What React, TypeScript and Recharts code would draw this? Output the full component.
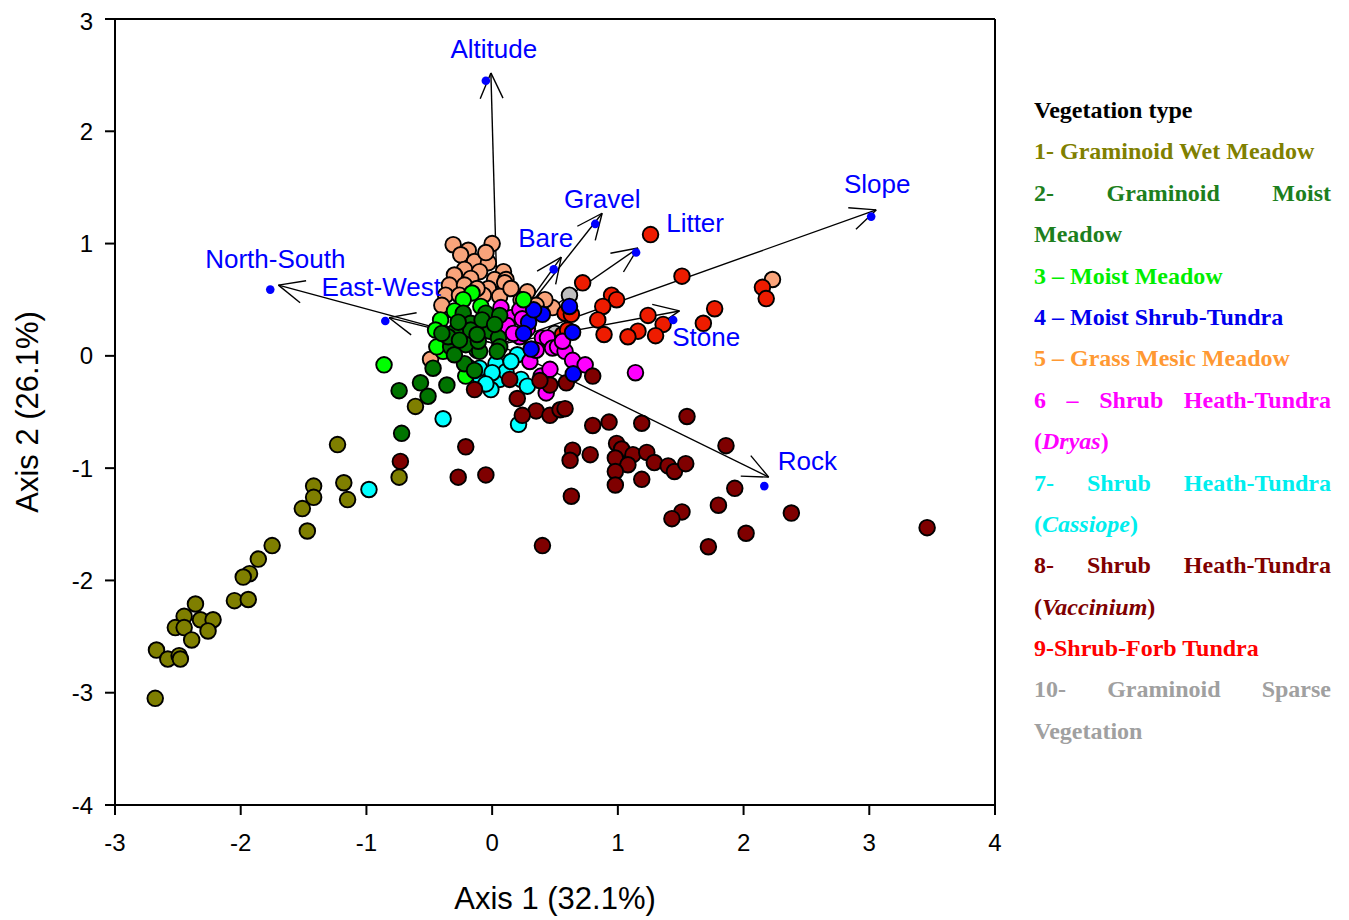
import React from 'react';
import { ScatterChart, Scatter, XAxis, YAxis, ReferenceLine } from 'recharts';

// site scores per vegetation type, [axis1, axis2]
const wetMeadow: [number, number][] = [
  [-1.23, -0.79], [-1.18, -1.13], [-1.15, -1.28], [-1.42, -1.16], [-1.42, -1.26],
  [-1.51, -1.36], [-1.47, -1.56], [-1.75, -1.69], [-1.86, -1.81], [-1.93, -1.94],
  [-1.98, -1.97], [-2.05, -2.18], [-1.94, -2.17], [-2.36, -2.21], [-2.45, -2.32],
  [-2.52, -2.42], [-2.45, -2.42], [-2.32, -2.35], [-2.22, -2.35], [-2.26, -2.45],
  [-2.39, -2.53], [-2.67, -2.62], [-2.58, -2.7], [-2.49, -2.67], [-2.48, -2.7],
  [-2.68, -3.05], [-0.74, -1.08], [-0.61, -0.45]
];
const graminoidMoist: [number, number][] = [
  [-0.23, 0.38], [-0.05, 0.38], [0.06, 0.36], [-0.17, 0.29], [-0.29, 0.22],
  [-0.17, 0.23], [-0.02, 0.22], [0.05, 0.16], [-0.33, 0.08], [-0.21, 0.1],
  [-0.1, 0.04], [0.06, 0.08], [-0.22, -0.07], [-0.14, -0.13], [-0.3, 0.01],
  [-0.47, -0.11], [-0.36, -0.26], [-0.57, -0.24], [-0.51, -0.36], [-0.74, -0.31],
  [-0.72, -0.69], [-0.11, 0.13], [-0.27, 0.3], [-0.08, 0.32], [-0.35, 0.17],
  [0.02, 0.28], [-0.12, 0.19], [-0.4, 0.2], [0.04, 0.04], [-0.26, 0.14]
];
const moistMeadow: [number, number][] = [
  [-0.86, -0.08], [-0.16, 0.56], [0.25, 0.5], [-0.41, 0.32], [-0.38, 0.2],
  [-0.23, 0.5], [-0.21, -0.18], [-0.39, 0.04], [-0.09, 0.44], [-0.45, 0.23],
  [-0.3, 0.4], [-0.12, 0.05], [-0.44, 0.08]
];
const moistShrub: [number, number][] = [
  [0.615, 0.44], [0.4, 0.37], [0.29, 0.3], [0.64, 0.21], [0.31, 0.06],
  [0.645, -0.16], [0.33, 0.41], [0.25, 0.2]
];
const mesicMeadow: [number, number][] = [
  [-0.31, 0.99], [-0.19, 0.94], [0.0, 1.0], [-0.25, 0.9], [-0.14, 0.84],
  [-0.03, 0.83], [-0.22, 0.77], [-0.1, 0.75], [0.09, 0.75], [-0.3, 0.72],
  [-0.17, 0.69], [0.02, 0.68], [0.11, 0.68], [-0.34, 0.63], [-0.22, 0.63],
  [-0.03, 0.6], [0.1, 0.65], [-0.37, 0.54], [0.28, 0.57], [0.23, 0.5],
  [-0.26, 0.54], [-0.07, 0.54], [0.06, 0.53], [0.48, 0.43], [0.42, 0.5],
  [-0.49, -0.03], [2.23, 0.68], [0.15, 0.6], [-0.05, 0.92], [-0.4, 0.45],
  [0.35, 0.45], [-0.12, 0.6]
];
const dryasHeath: [number, number][] = [
  [0.07, 0.43], [0.15, 0.34], [0.22, 0.41], [0.22, 0.17], [0.28, 0.24],
  [0.4, 0.16], [0.44, 0.16], [0.48, 0.07], [0.52, 0.08], [0.58, 0.04],
  [0.64, -0.04], [0.74, -0.08], [0.3, -0.05], [0.39, -0.18], [0.46, -0.12],
  [0.43, -0.33], [1.14, -0.15], [0.35, 0.05], [0.12, 0.27], [0.56, 0.13],
  [0.17, 0.2], [0.24, 0.33]
];
const cassiopeHeath: [number, number][] = [
  [0.06, -0.21], [-0.09, -0.21], [-0.01, -0.3], [0.2, 0.01], [0.23, -0.21],
  [0.28, -0.27], [0.03, -0.07], [0.11, -0.14], [-0.1, -0.11], [-0.19, -0.1],
  [0.21, -0.61], [-0.39, -0.56], [-0.98, -1.19], [0.15, -0.05], [0.0, -0.15],
  [-0.05, -0.25]
];
const vacciniumHeath: [number, number][] = [
  [0.8, -0.18], [0.46, -0.26], [0.59, -0.24], [0.38, -0.22], [0.35, -0.49],
  [0.46, -0.53], [0.54, -0.48], [0.58, -0.47], [0.24, -0.53], [0.8, -0.62],
  [0.93, -0.59], [1.19, -0.6], [1.55, -0.54], [0.64, -0.84], [0.62, -0.93],
  [0.78, -0.88], [0.99, -0.78], [1.03, -0.83], [0.98, -0.91], [1.12, -0.88],
  [1.23, -0.86], [1.08, -0.97], [0.98, -1.03], [0.98, -1.15], [1.19, -1.1],
  [1.29, -0.95], [1.4, -0.98], [1.45, -1.03], [1.54, -0.96], [1.86, -0.8],
  [1.93, -1.18], [1.8, -1.33], [1.51, -1.39], [1.43, -1.45], [2.02, -1.58],
  [1.72, -1.7], [2.38, -1.4], [0.63, -1.25], [0.4, -1.69], [3.46, -1.53],
  [-0.21, -0.81], [-0.27, -1.08], [-0.05, -1.06], [-0.73, -0.94], [-0.14, -0.3],
  [0.14, -0.21], [0.2, -0.38]
];
const shrubForb: [number, number][] = [
  [1.26, 1.08], [1.51, 0.71], [0.72, 0.65], [0.95, 0.54], [0.99, 0.5],
  [0.88, 0.44], [0.84, 0.32], [1.24, 0.36], [1.36, 0.28], [1.16, 0.22],
  [1.08, 0.17], [1.3, 0.18], [0.89, 0.19], [1.68, 0.29], [1.77, 0.42],
  [2.15, 0.61], [2.18, 0.51], [0.58, 0.38], [0.63, 0.37], [0.56, 0.19],
  [0.6, 0.23]
];
const sparseVeg: [number, number][] = [[0.615, 0.54], [0.5, 0.2]];

// environmental vectors (biplot)
const vectorOrigin: [number, number] = [0.05, 0.1];
const vectorNames = ['Altitude', 'Gravel', 'Bare', 'Litter', 'Slope', 'Stone', 'Rock', 'North-South', 'East-West'];
const vectorTips: [number, number][] = [
  [-0.01, 2.52], [0.875, 1.27], [0.55, 0.88], [1.16, 0.96], [3.055, 1.3],
  [1.49, 0.4], [2.2, -1.08], [-1.7, 0.63], [-0.82, 0.34]
];
const vectorScores: [number, number][] = [
  [-0.05, 2.45], [0.82, 1.175], [0.49, 0.77], [1.145, 0.92], [3.015, 1.24],
  [1.44, 0.32], [2.165, -1.16], [-1.765, 0.59], [-0.85, 0.31]
];

const xTicks = [-3, -2, -1, 0, 1, 2, 3, 4];
const yTicks = [-4, -3, -2, -1, 0, 1, 2, 3];

// label placement next to each vector score (px)
const labelOffset: Record<string, [number, number]> = {
  'Altitude': [8, -23], 'Gravel': [7, -16], 'Bare': [-8, -22], 'Litter': [59, -21],
  'Slope': [6, -24], 'Stone': [33, 26], 'Rock': [43, -16], 'North-South': [5, -22],
  'East-West': [-4, -25]
};

const series = [
  { key: 'mesic', data: mesicMeadow, fill: '#f9a47b' },
  { key: 'sparse', data: sparseVeg, fill: '#c0c0c0' },
  { key: 'forb', data: shrubForb, fill: '#ee1c00' },
  { key: 'cassiope', data: cassiopeHeath, fill: '#00ffff' },
  { key: 'dryas', data: dryasHeath, fill: '#ff00ff' },
  { key: 'vaccinium', data: vacciniumHeath, fill: '#7f0000' },
  { key: 'shrub', data: moistShrub, fill: '#0000ff' },
  { key: 'moist', data: moistMeadow, fill: '#00ff00' },
  { key: 'graminoid', data: graminoidMoist, fill: '#007400' },
  { key: 'wet', data: wetMeadow, fill: '#7f7f00' }
];

type Part = { t: string; i?: boolean };
const legendLines: { color: string; parts: Part[]; justify?: boolean }[] = [
  { color: '#000000', parts: [{ t: 'Vegetation type' }] },
  { color: '#808000', parts: [{ t: '1- Graminoid Wet Meadow' }] },
  { color: '#1d7f1d', parts: [{ t: '2-' }, { t: 'Graminoid' }, { t: 'Moist' }], justify: true },
  { color: '#1d7f1d', parts: [{ t: 'Meadow' }] },
  { color: '#00ee00', parts: [{ t: '3 \u2013 Moist Meadow' }] },
  { color: '#0000ee', parts: [{ t: '4 \u2013 Moist Shrub-Tundra' }] },
  { color: '#ff9933', parts: [{ t: '5 \u2013 Grass Mesic Meadow' }] },
  { color: '#ff00ff', parts: [{ t: '6' }, { t: '\u2013' }, { t: 'Shrub' }, { t: 'Heath-Tundra' }], justify: true },
  { color: '#ff00ff', parts: [{ t: '(' }, { t: 'Dryas', i: true }, { t: ')' }] },
  { color: '#00eeee', parts: [{ t: '7-' }, { t: 'Shrub' }, { t: 'Heath-Tundra' }], justify: true },
  { color: '#00eeee', parts: [{ t: '(' }, { t: 'Cassiope', i: true }, { t: ')' }] },
  { color: '#800000', parts: [{ t: '8-' }, { t: 'Shrub' }, { t: 'Heath-Tundra' }], justify: true },
  { color: '#800000', parts: [{ t: '(' }, { t: 'Vaccinium', i: true }, { t: ')' }] },
  { color: '#ff0000', parts: [{ t: '9-Shrub-Forb Tundra' }] },
  { color: '#a0a0a0', parts: [{ t: '10-' }, { t: 'Graminoid' }, { t: 'Sparse' }], justify: true },
  { color: '#a0a0a0', parts: [{ t: 'Vegetation' }] }
];

const sansFont = '"Liberation Sans", Arial, sans-serif';

const siteDot = (fill: string) => (props: any) => {
  if (props.cx == null || props.cy == null) return <g />;
  return <circle cx={props.cx} cy={props.cy} r={7.8} fill={fill} stroke="#000" strokeWidth={1.9} />;
};

const vectorDot = (props: any) => {
  if (props.cx == null || props.cy == null) return <g />;
  const name = props.payload?.name ?? '';
  const off = labelOffset[name] || [0, -20];
  return (
    <g>
      <circle cx={props.cx} cy={props.cy} r={4.3} fill="#0000ff" />
      <text x={props.cx + off[0]} y={props.cy + off[1]} textAnchor="middle" fill="#0000ff"
        fontSize={26} fontFamily={sansFont}>{name}</text>
    </g>
  );
};

const arrowShape = (props: any) => {
  const { x1, y1, x2, y2 } = props;
  if ([x1, y1, x2, y2].some((v) => typeof v !== 'number' || isNaN(v))) return <g />;
  const a = Math.atan2(y2 - y1, x2 - x1);
  const len = 28;
  const spread = 0.42;
  const ax = x2 - len * Math.cos(a - spread);
  const ay = y2 - len * Math.sin(a - spread);
  const bx = x2 - len * Math.cos(a + spread);
  const by = y2 - len * Math.sin(a + spread);
  return (
    <g stroke="#000" strokeWidth={1.4} fill="none">
      <line x1={x1} y1={y1} x2={x2} y2={y2} />
      <line x1={x2} y1={y2} x2={ax} y2={ay} />
      <line x1={x2} y1={y2} x2={bx} y2={by} />
    </g>
  );
};

const xTitle = (props: any) => {
  const vb = props.viewBox || { x: 107, y: 797, width: 880 };
  return (
    <text x={vb.x + vb.width / 2} y={vb.y + 104} textAnchor="middle" fontSize={31}
      fontFamily={sansFont} fill="#000">Axis 1 (32.1%)</text>
  );
};

const yTitle = (props: any) => {
  const vb = props.viewBox || { x: 0, y: 11, height: 786 };
  const cx = 30;
  const cy = vb.y + vb.height / 2;
  return (
    <text x={cx} y={cy} transform={`rotate(-90, ${cx}, ${cy})`} textAnchor="middle" fontSize={31}
      fontFamily={sansFont} fill="#000">Axis 2 (26.1%)</text>
  );
};

export default function App() {
  const toPoints = (d: [number, number][]) => d.map(([x, y]) => ({ x, y }));
  const vectorData = vectorNames.map((name, i) => ({ name, x: vectorScores[i][0], y: vectorScores[i][1] }));
  const tick = { fontSize: 24, fontFamily: sansFont, fill: '#000' };

  return (
    <div style={{ position: 'relative', width: 1341, height: 910 }}>
      <ScatterChart width={1000} height={910} margin={{ top: 11, right: 13, bottom: 0, left: 0 }}>
        <XAxis type="number" dataKey="x" domain={[-3, 4]} ticks={xTicks} allowDataOverflow
          height={113} tickSize={10} tickMargin={19} tick={tick}
          axisLine={{ stroke: '#000', strokeWidth: 2 }} tickLine={{ stroke: '#000', strokeWidth: 2 }}
          label={xTitle} />
        <YAxis type="number" dataKey="y" domain={[-4, 3]} ticks={yTicks} allowDataOverflow
          width={107} tickSize={10} tickMargin={12} tick={tick}
          axisLine={{ stroke: '#000', strokeWidth: 2 }} tickLine={{ stroke: '#000', strokeWidth: 2 }}
          label={yTitle} />
        <ReferenceLine y={3} stroke="#000" strokeWidth={2} />
        <ReferenceLine x={4} stroke="#000" strokeWidth={2} />
        {series.map((s) => (
          <Scatter key={s.key} data={toPoints(s.data)} shape={siteDot(s.fill)} isAnimationActive={false} />
        ))}
        {vectorNames.map((name, i) => (
          <ReferenceLine key={name} ifOverflow="extendDomain"
            segment={[{ x: vectorOrigin[0], y: vectorOrigin[1] }, { x: vectorTips[i][0], y: vectorTips[i][1] }]}
            shape={arrowShape} />
        ))}
        <Scatter data={vectorData} shape={vectorDot} isAnimationActive={false} />
      </ScatterChart>
      <div style={{
        position: 'absolute', left: 1026, top: 82, width: 297,
        fontFamily: '"Liberation Serif", "Times New Roman", serif', fontWeight: 'bold', fontSize: 24
      }}>
        {legendLines.map((line, i) => (
          <div key={i} style={{
            height: 41.4, lineHeight: '41.4px', color: line.color, whiteSpace: 'pre',
            display: 'flex', justifyContent: line.justify ? 'space-between' : 'flex-start'
          }}>
            {line.parts.map((p, j) => (
              <span key={j} style={{ fontStyle: p.i ? 'italic' : 'normal' }}>{p.t}</span>
            ))}
          </div>
        ))}
      </div>
    </div>
  );
}
